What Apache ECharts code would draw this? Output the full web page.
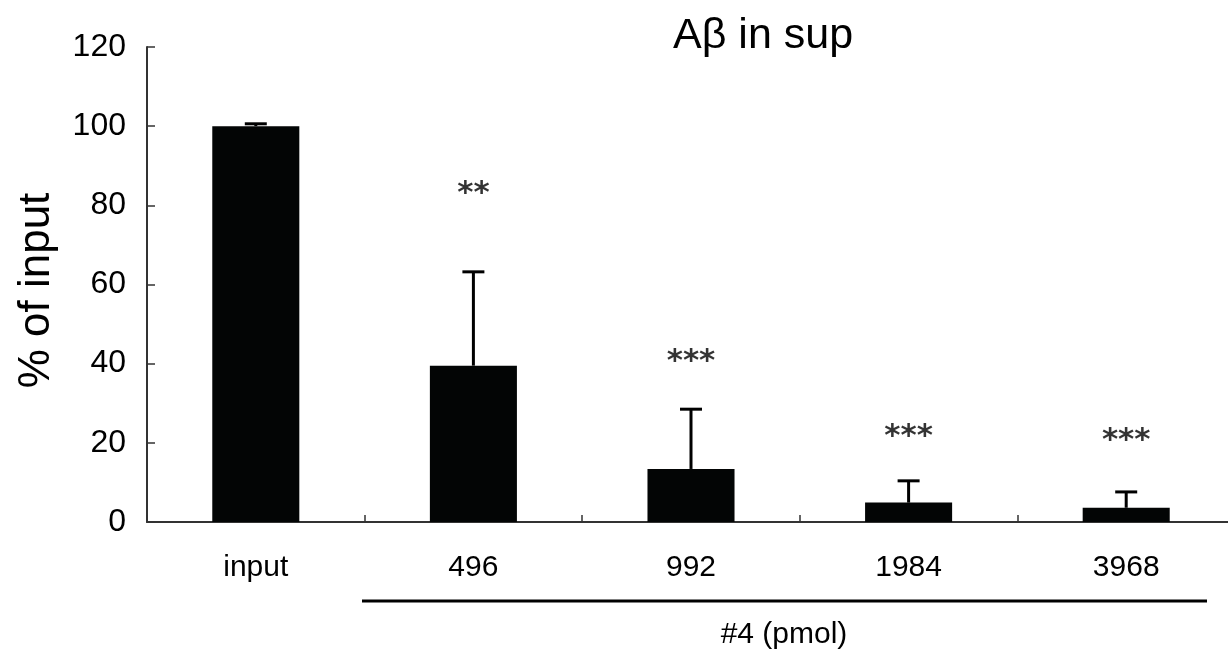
<!DOCTYPE html>
<html>
<head>
<meta charset="utf-8">
<script src="https://cdn.jsdelivr.net/npm/echarts@6/dist/echarts.min.js"></script>
<style>
  html, body { margin: 0; padding: 0; background: #fff; }
  #chart { width: 1228px; height: 650px; }
</style>
</head>
<body>
<div id="chart"></div>
<script>
// data
const categories = ["input", "496", "992", "1984", "3968"];
const means = [100, 39.5, 13.4, 4.9, 3.6];
const errTop = [100.6, 63.2, 28.5, 10.4, 7.6];
const starLevel = [null, 83, 40.5, 21.5, 20.5];
const starText = ["", "**", "***", "***", "***"];

const FONT = "Liberation Sans";

let chart = echarts.init(document.getElementById("chart"));

let option = {
  animation: false,
  title: {
    text: "Aβ in sup",
    left: 668,
    top: 10,
    textStyle: { fontFamily: FONT, fontSize: 43, fontWeight: "normal", color: "#000" },
  },
  grid: { left: 147, right: -7, top: 47, bottom: 128, containLabel: false, outerBoundsMode: "none" },
  xAxis: {
    type: "category",
    data: categories,
    axisLine: { lineStyle: { color: "#333", width: 2 } },
    axisTick: { show: true, inside: true, length: 7, lineStyle: { color: "#333", width: 1.5 } },
    axisLabel: { fontFamily: FONT, fontSize: 30, color: "#000", margin: 31 },
    splitLine: { show: false },
  },
  yAxis: {
    type: "value",
    min: 0,
    max: 120,
    interval: 20,
    name: "% of input",
    nameLocation: "middle",
    nameRotate: 90,
    nameGap: 88,
    nameTextStyle: { fontFamily: FONT, fontSize: 44, color: "#000", padding: [0, 12, 0, 0] },
    axisLine: { show: true, lineStyle: { color: "#333", width: 2 } },
    axisTick: { show: true, inside: true, length: 8, lineStyle: { color: "#333", width: 1.5 } },
    axisLabel: { fontFamily: FONT, fontSize: 32, color: "#000", margin: 21, padding: [18, 0, 0, 0] },
    splitLine: { show: false },
  },
  series: [
    {
      type: "bar",
      data: means,
      barWidth: "40%",
      itemStyle: { color: "#030505" },
      z: 2,
    },
    {
      type: "custom",
      z: 3,
      renderItem: function (params, api) {
        let x = api.value(0);
        let top = api.coord([x, api.value(1)]);
        let base = api.coord([x, api.value(2)]);
        let half = 11;
        return {
          type: "group",
          children: [
            {
              type: "line",
              shape: { x1: top[0], y1: top[1], x2: base[0], y2: base[1] },
              style: { stroke: "#000", lineWidth: 3 },
            },
            {
              type: "line",
              shape: { x1: top[0] - half, y1: top[1], x2: top[0] + half, y2: top[1] },
              style: { stroke: "#000", lineWidth: 3 },
            },
          ],
        };
      },
      data: categories.map((c, i) => [i, errTop[i], means[i]]),
    },
    {
      type: "scatter",
      symbolSize: 1,
      itemStyle: { color: "transparent" },
      label: {
        show: true,
        position: "inside",
        fontFamily: "DejaVu Sans",
        fontWeight: "bold",
        fontSize: 31,
        color: "#000",
        formatter: (p) => starText[p.dataIndex],
      },
      data: starLevel.map((v, i) => (v === null ? [i, null] : [i, v])),
    },
  ],
  graphic: [
    {
      type: "line",
      shape: { x1: 362, y1: 601, x2: 1207, y2: 601 },
      style: { stroke: "#000", lineWidth: 3 },
    },
    {
      type: "text",
      x: 784,
      y: 635,
      style: {
        text: "#4 (pmol)",
        font: "30px " + FONT,
        fill: "#000",
        align: "center",
        verticalAlign: "middle",
      },
    },
  ],
};

chart.setOption(option);
</script>
</body>
</html>
